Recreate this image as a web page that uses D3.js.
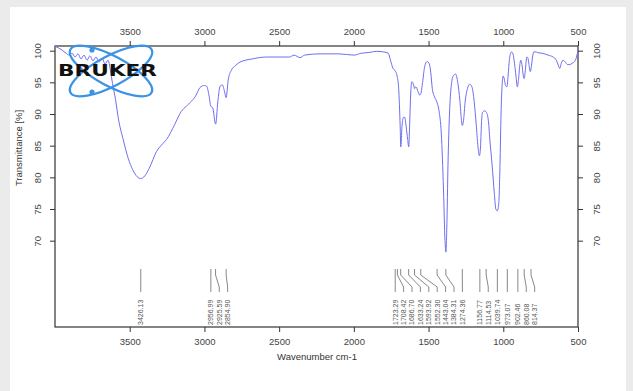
<!DOCTYPE html>
<html>
<head>
<meta charset="utf-8">
<script src="https://cdn.jsdelivr.net/npm/d3@7"></script>
<style>
  body { margin: 0; background: #ebebeb; }
  text { font-family: "Liberation Sans", Arial, sans-serif; }
</style>
</head>
<body>
<div id="my_dataviz"></div>
<script>
// spectrum: wavenumber (cm-1) and transmittance (%)
var wavenumbers = [4000, 3953, 3926, 3906, 3886, 3866, 3846, 3826, 3806, 3786, 3766, 3746, 3726, 3706, 3685, 3665, 3645, 3630, 3615, 3595,
  3576, 3543, 3510, 3480, 3450, 3426, 3400, 3370, 3320, 3280, 3253, 3200, 3163, 3096, 3060, 3029, 3000, 2985, 2970, 2957,
  2945, 2925, 2910, 2895, 2880, 2865, 2855, 2840, 2820, 2790, 2762, 2680, 2583, 2430, 2400, 2360, 2330, 2226, 2100, 2000,
  1950, 1900, 1850, 1800, 1770, 1755, 1738, 1723, 1709, 1700, 1690, 1686, 1678, 1670, 1660, 1650, 1640, 1633, 1627, 1620,
  1612, 1600, 1594, 1585, 1570, 1560, 1552, 1540, 1526, 1510, 1495, 1485, 1475, 1460, 1443, 1430, 1415, 1400, 1390, 1384,
  1378, 1370, 1360, 1348, 1335, 1318, 1305, 1290, 1280, 1274, 1266, 1255, 1240, 1225, 1210, 1195, 1180, 1168, 1160, 1152,
  1145, 1138, 1125, 1114, 1100, 1090, 1075, 1060, 1050, 1040, 1030, 1022, 1015, 1008, 1001, 993, 985, 975, 968, 958,
  945, 935, 925, 915, 906, 898, 888, 883, 875, 866, 860, 852, 843, 836, 828, 819, 812, 803, 796, 780,
  770, 740, 700, 667, 645, 630, 622, 612, 600, 585, 570, 555, 540, 522, 510, 500];
var transmittance = [100.7, 100.1, 99.6, 99.3, 99.6, 99.0, 99.5, 98.7, 99.3, 98.5, 99.2, 98.4, 99.0, 98.2, 98.8, 97.9, 98.5, 97.0, 94.8, 92.3,
  89.3, 85.9, 83.0, 81.2, 80.1, 79.8, 80.2, 81.4, 84.1, 85.3, 86.0, 88.3, 90.1, 91.8, 92.8, 94.2, 94.5, 94.4, 93.0, 91.2,
  91.0, 88.4, 92.0, 94.4, 94.6, 93.5, 92.6, 95.5, 96.9, 97.7, 98.2, 98.7, 99.0, 99.0, 99.3, 98.9, 99.3, 99.5, 99.5, 99.3,
  99.6, 99.7, 99.9, 99.8, 99.6, 98.5, 97.2, 96.8, 95.8, 94.0, 88.0, 84.8, 88.0, 89.4, 89.5, 88.0, 86.0, 84.8, 88.0, 93.0,
  95.1, 94.6, 94.0, 94.3, 93.5, 93.0, 93.2, 95.0, 97.5, 98.3, 97.9, 96.5, 94.0, 92.7, 91.8, 90.5, 87.0, 78.0, 70.0, 68.2,
  72.0, 82.0, 90.0, 94.5, 96.0, 96.3, 95.0, 92.0, 89.0, 88.2, 89.0, 92.0, 94.0, 94.7, 94.3, 92.0, 88.0, 84.5, 83.4, 85.0,
  89.0, 90.3, 90.5, 90.3, 89.0, 86.0, 82.0, 77.5, 75.0, 74.7, 76.0, 82.0, 90.0, 94.5, 96.0, 95.5, 94.5, 94.3, 96.0, 98.8,
  99.8, 99.5, 98.0, 96.0, 94.3, 95.5, 98.0, 98.5, 97.8, 96.0, 95.6, 97.0, 99.0, 98.9, 97.8, 96.7, 97.5, 99.2, 99.8, 99.8,
  99.7, 99.6, 99.3, 99.0, 98.5, 97.6, 97.2, 98.0, 98.5, 98.2, 97.8, 97.8, 98.0, 98.3, 99.0, 100.1];

// picked peaks, in two groups
var peaksLeft = ["3426.13", "2956.99", "2925.59", "2854.90"];
var peaksRight = ["1723.29", "1708.42", "1686.70", "1633.24", "1593.92", "1552.30", "1443.04", "1384.31",
  "1274.36", "1156.77", "1114.53", "1039.74", "973.07", "902.46", "860.08", "814.37"];

var xTicks = [3500, 3000, 2500, 2000, 1500, 1000, 500];
var yTicks = [100, 95, 90, 85, 80, 75, 70];

var W = 633, H = 391;
var margin = { left: 55, right: 55, top: 46, bottom: 64 };
var width = W - margin.left - margin.right;
var height = H - margin.top - margin.bottom;

var svg = d3.select("#my_dataviz").append("svg")
  .attr("width", W).attr("height", H)
  .style("display", "block");

// white panel with the grey edge around it
svg.append("rect").attr("x", 10).attr("y", 7).attr("width", 616).attr("height", H - 7).attr("fill", "#fff");

var g = svg.append("g").attr("transform", "translate(" + margin.left + "," + margin.top + ")");

var x = d3.scaleLinear().domain([4000, 500]).range([0, width]);
var y = d3.scaleLinear().domain([56.37, 100.74]).range([height, 0]);

// axes on all four sides
function styleAxis(sel) {
  sel.select(".domain").remove();
  sel.selectAll("line").attr("stroke", "#333");
  sel.selectAll("text").attr("fill", "#444").style("font-size", "9.5px");
}
var fmt = d3.format("d");
g.append("g").attr("transform", "translate(0," + height + ")")
  .call(d3.axisBottom(x).tickValues(xTicks).tickFormat(fmt).tickSize(5).tickPadding(6)).call(styleAxis);
g.append("g")
  .call(d3.axisTop(x).tickValues(xTicks).tickFormat(fmt).tickSize(5).tickPadding(6)).call(styleAxis);

var yl = g.append("g").call(d3.axisLeft(y).tickValues(yTicks).tickFormat(fmt).tickSize(5).tickPadding(0)).call(styleAxis);
yl.selectAll("text").attr("x", null).attr("dy", null)
  .attr("text-anchor", "middle")
  .attr("transform", "translate(-18,0) rotate(-90) translate(0,3.5)");
var yr = g.append("g").attr("transform", "translate(" + width + ",0)")
  .call(d3.axisRight(y).tickValues(yTicks).tickFormat(fmt).tickSize(5).tickPadding(0)).call(styleAxis);
yr.selectAll("text").attr("x", null).attr("dy", null)
  .attr("text-anchor", "middle")
  .attr("transform", "translate(18,0) rotate(-90) translate(0,3.5)");

g.append("rect").attr("width", width).attr("height", height)
  .attr("fill", "none").attr("stroke", "#333").attr("stroke-width", 1.2);

// bruker logo
var logo = svg.append("g").attr("transform", "translate(111,71)");
[28, -28].forEach(function (a) {
  logo.append("ellipse").attr("rx", 46).attr("ry", 15)
    .attr("transform", "rotate(" + a + ")")
    .attr("fill", "none").attr("stroke", "#3b93e6").attr("stroke-width", 2.2);
});
logo.append("circle").attr("cx", -19).attr("cy", -21).attr("r", 2.6).attr("fill", "#3b93e6");
logo.append("circle").attr("cx", -19).attr("cy", 21).attr("r", 2.6).attr("fill", "#3b93e6");

// spectrum
var data = wavenumbers.map(function (w, i) { return { w: w, t: transmittance[i] }; });
var line = d3.line()
  .x(function (d) { return x(d.w); })
  .y(function (d) { return y(d.t); })
  .curve(d3.curveMonotoneX);
g.append("path").datum(data)
  .attr("d", line)
  .attr("fill", "none")
  .attr("stroke", "#6e6ef0")
  .attr("stroke-width", 1);

svg.append("text").attr("x", 58).attr("y", 76)
  .attr("textLength", 99).attr("lengthAdjust", "spacingAndGlyphs")
  .style("font-size", "15px").style("font-weight", "900")
  .style("font-family", "'DejaVu Sans', sans-serif")
  .attr("fill", "#111").text("BRUKER");

// peak labels: spread so they don't overlap
var gap = 8.4;
function drawPeaks(list) {
  var pos = [];
  list.forEach(function (p, i) {
    var px = x(+p);
    pos.push(i == 0 ? px : Math.max(px, pos[i - 1] + gap));
  });
  list.forEach(function (p, i) {
    var px = x(+p), lx = pos[i];
    g.append("path")
      .attr("d", "M" + px + "," + (269 - margin.top) + "L" + px + "," + (275 - margin.top) +
        "L" + lx + "," + (287 - margin.top) + "L" + lx + "," + (292 - margin.top))
      .attr("fill", "none").attr("stroke", "#888").attr("stroke-width", 1);
    g.append("text")
      .attr("transform", "translate(" + lx + "," + (325 - margin.top) + ") rotate(-90)")
      .attr("dy", "0.35em")
      .style("font-size", "7px").attr("fill", "#555")
      .text(p);
  });
}
drawPeaks(peaksLeft);
drawPeaks(peaksRight);

// titles
svg.append("text").attr("x", 317).attr("y", 360).attr("text-anchor", "middle")
  .style("font-size", "9.5px").attr("fill", "#333").text("Wavenumber cm-1");
svg.append("text").attr("transform", "translate(19,148) rotate(-90)").attr("text-anchor", "middle")
  .attr("dy", "0.35em")
  .style("font-size", "9.5px").attr("fill", "#333").text("Transmittance [%]");
</script>
</body>
</html>
